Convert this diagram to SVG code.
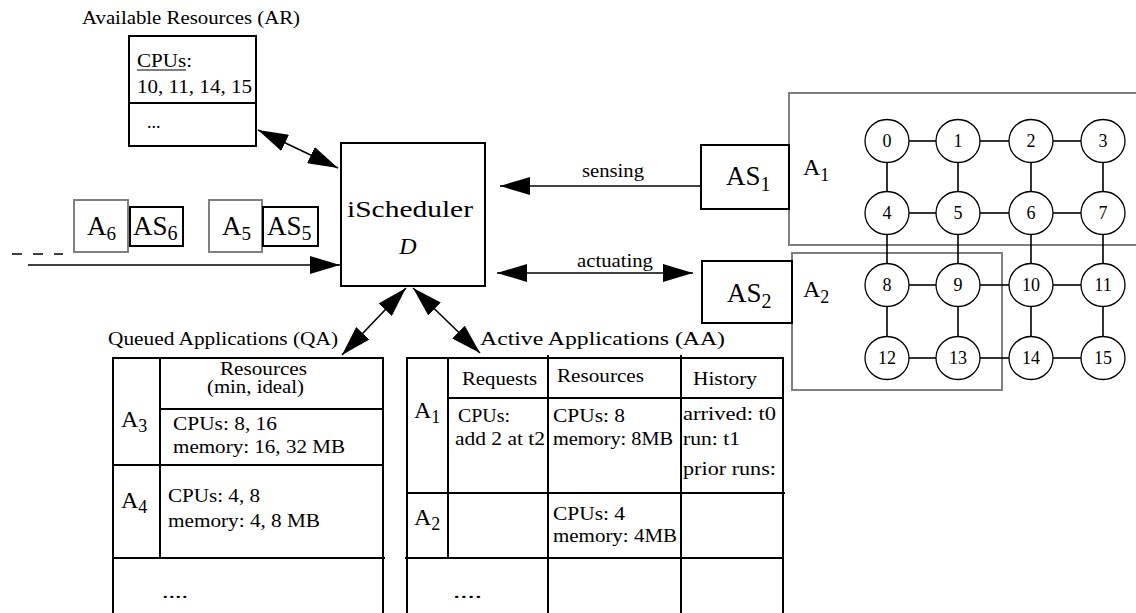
<svg xmlns="http://www.w3.org/2000/svg" width="1136" height="613" viewBox="0 0 1136 613">
  <defs>
    <marker id="head" viewBox="0 0 30 18" refX="30" refY="9" markerWidth="30" markerHeight="18" markerUnits="userSpaceOnUse" orient="auto-start-reverse">
      <path d="M0,0 L30,9 L0,18 z" fill="#000"/>
    </marker>
    <style>
      text { font-family: "Liberation Serif", "Times New Roman", serif; fill: #000; }
      .lbl { font-size: 18px; }
      .big { font-size: 24px; }
      .as { font-size: 27px; }
      .num { font-size: 18px; text-anchor: middle; }
      .box { fill: #fff; stroke: #000; stroke-width: 2; }
      .gbox { fill: none; stroke: #808080; stroke-width: 2; }
      .tl { stroke: #000; stroke-width: 2; fill: none; }
      .arr { stroke: #000; stroke-width: 1.6; fill: none; }
      .node { fill: #fff; stroke: #000; stroke-width: 1.3; }
      .edge { stroke: #000; stroke-width: 1.6; }
    </style>
  </defs>
  <rect width="1136" height="613" fill="#fff"/>

  <!-- region outlines for the two allocated partitions -->
  <rect class="gbox" x="789" y="93" width="360" height="152"/>
  <rect class="gbox" x="792" y="253" width="210" height="137"/>

  <!-- connectors -->
  <g id="connectors">
    <line class="arr" x1="258" y1="130" x2="338" y2="168" marker-start="url(#head)" marker-end="url(#head)"/>
    <line class="arr" x1="28" y1="265" x2="340" y2="265" marker-end="url(#head)"/>
    <line class="arr" x1="12" y1="254" x2="63" y2="254" stroke-dasharray="10 11"/>
    <line class="arr" x1="701" y1="186" x2="500" y2="186" marker-end="url(#head)"/>
    <line class="arr" x1="497" y1="273" x2="693" y2="273" marker-start="url(#head)" marker-end="url(#head)"/>
    <line class="arr" x1="406" y1="288" x2="342" y2="355" marker-start="url(#head)" marker-end="url(#head)"/>
    <line class="arr" x1="413" y1="288" x2="480" y2="353" marker-start="url(#head)" marker-end="url(#head)"/>
    <text class="lbl" x="582" y="177" textLength="62" lengthAdjust="spacingAndGlyphs">sensing</text>
    <text class="lbl" x="577" y="267" textLength="76" lengthAdjust="spacingAndGlyphs">actuating</text>
  </g>

  <!-- available resources -->
  <g id="ar">
    <text class="lbl" x="82" y="24" textLength="218" lengthAdjust="spacingAndGlyphs">Available Resources (AR)</text>
    <rect class="box" x="129" y="36" width="127" height="110"/>
    <line class="tl" x1="129" y1="103" x2="256" y2="103"/>
    <text class="lbl" x="137" y="67" textLength="55" lengthAdjust="spacingAndGlyphs">CPUs:</text>
    <line x1="137" y1="70" x2="186" y2="70" stroke="#000" stroke-width="1.2"/>
    <text class="lbl" x="137" y="93" textLength="115" lengthAdjust="spacingAndGlyphs">10, 11, 14, 15</text>
    <text class="lbl" x="147" y="128">...</text>
  </g>

  <!-- scheduler -->
  <g id="scheduler">
    <rect class="box" x="341" y="143" width="144" height="143"/>
    <text class="big" x="347" y="217" textLength="126" lengthAdjust="spacingAndGlyphs">iScheduler</text>
    <text class="big" x="408" y="254" text-anchor="middle" font-style="italic">D</text>
  </g>

  <!-- incoming applications -->
  <g id="a6">
    <rect class="gbox" x="74" y="200" width="54" height="52"/>
    <text class="as" x="87" y="235" font-size="26">A<tspan dy="5" font-size="19">6</tspan></text>
  </g>
  <g id="as6">
    <rect class="box" x="130" y="207" width="53" height="39"/>
    <text class="as" x="133" y="235">AS<tspan dy="5" font-size="20">6</tspan></text>
  </g>
  <g id="a5">
    <rect class="gbox" x="209" y="200" width="53" height="52"/>
    <text class="as" x="222" y="235" font-size="26">A<tspan dy="5" font-size="19">5</tspan></text>
  </g>
  <g id="as5">
    <rect class="box" x="263" y="207" width="55" height="39"/>
    <text class="as" x="267" y="235">AS<tspan dy="5" font-size="20">5</tspan></text>
  </g>

  <!-- application schedulers -->
  <g id="as1">
    <rect class="box" x="701" y="145" width="88" height="64"/>
    <text class="as" x="726" y="185">AS<tspan dy="6" font-size="20">1</tspan></text>
  </g>
  <g id="as2">
    <rect class="box" x="702" y="261" width="90" height="62"/>
    <text class="as" x="727" y="302">AS<tspan dy="6" font-size="20">2</tspan></text>
  </g>
  <text class="big" x="803" y="175">A<tspan dy="6" font-size="18">1</tspan></text>
  <text class="big" x="803" y="297">A<tspan dy="6" font-size="18">2</tspan></text>

  <!-- processor mesh -->
  <g id="mesh-edges">
    <line class="edge" x1="909" y1="141" x2="936" y2="141"/>
    <line class="edge" x1="980" y1="141" x2="1009" y2="141"/>
    <line class="edge" x1="1053" y1="141" x2="1081" y2="141"/>
    <line class="edge" x1="909" y1="213" x2="936" y2="213"/>
    <line class="edge" x1="980" y1="213" x2="1009" y2="213"/>
    <line class="edge" x1="1053" y1="213" x2="1081" y2="213"/>
    <line class="edge" x1="909" y1="285" x2="936" y2="285"/>
    <line class="edge" x1="980" y1="285" x2="1009" y2="285"/>
    <line class="edge" x1="1053" y1="285" x2="1081" y2="285"/>
    <line class="edge" x1="909" y1="358" x2="936" y2="358"/>
    <line class="edge" x1="980" y1="358" x2="1009" y2="358"/>
    <line class="edge" x1="1053" y1="358" x2="1081" y2="358"/>
    <line class="edge" x1="887" y1="162" x2="887" y2="192"/>
    <line class="edge" x1="958" y1="162" x2="958" y2="192"/>
    <line class="edge" x1="1031" y1="162" x2="1031" y2="192"/>
    <line class="edge" x1="1103" y1="162" x2="1103" y2="192"/>
    <line class="edge" x1="887" y1="234" x2="887" y2="264"/>
    <line class="edge" x1="958" y1="234" x2="958" y2="264"/>
    <line class="edge" x1="1031" y1="234" x2="1031" y2="264"/>
    <line class="edge" x1="1103" y1="234" x2="1103" y2="264"/>
    <line class="edge" x1="887" y1="306" x2="887" y2="337"/>
    <line class="edge" x1="958" y1="306" x2="958" y2="337"/>
    <line class="edge" x1="1031" y1="306" x2="1031" y2="337"/>
    <line class="edge" x1="1103" y1="306" x2="1103" y2="337"/>
  </g>
  <g id="n0"><ellipse class="node" cx="887" cy="141" rx="22" ry="21.5"/><text class="num" x="887" y="147">0</text></g>
  <g id="n1"><ellipse class="node" cx="958" cy="141" rx="22" ry="21.5"/><text class="num" x="958" y="147">1</text></g>
  <g id="n2"><ellipse class="node" cx="1031" cy="141" rx="22" ry="21.5"/><text class="num" x="1031" y="147">2</text></g>
  <g id="n3"><ellipse class="node" cx="1103" cy="141" rx="22" ry="21.5"/><text class="num" x="1103" y="147">3</text></g>
  <g id="n4"><ellipse class="node" cx="887" cy="213" rx="22" ry="21.5"/><text class="num" x="887" y="219">4</text></g>
  <g id="n5"><ellipse class="node" cx="958" cy="213" rx="22" ry="21.5"/><text class="num" x="958" y="219">5</text></g>
  <g id="n6"><ellipse class="node" cx="1031" cy="213" rx="22" ry="21.5"/><text class="num" x="1031" y="219">6</text></g>
  <g id="n7"><ellipse class="node" cx="1103" cy="213" rx="22" ry="21.5"/><text class="num" x="1103" y="219">7</text></g>
  <g id="n8"><ellipse class="node" cx="887" cy="285" rx="22" ry="21.5"/><text class="num" x="887" y="291">8</text></g>
  <g id="n9"><ellipse class="node" cx="958" cy="285" rx="22" ry="21.5"/><text class="num" x="958" y="291">9</text></g>
  <g id="n10"><ellipse class="node" cx="1031" cy="285" rx="22" ry="21.5"/><text class="num" x="1031" y="291">10</text></g>
  <g id="n11"><ellipse class="node" cx="1103" cy="285" rx="22" ry="21.5"/><text class="num" x="1103" y="291">11</text></g>
  <g id="n12"><ellipse class="node" cx="887" cy="358" rx="22" ry="21.5"/><text class="num" x="887" y="364">12</text></g>
  <g id="n13"><ellipse class="node" cx="958" cy="358" rx="22" ry="21.5"/><text class="num" x="958" y="364">13</text></g>
  <g id="n14"><ellipse class="node" cx="1031" cy="358" rx="22" ry="21.5"/><text class="num" x="1031" y="364">14</text></g>
  <g id="n15"><ellipse class="node" cx="1103" cy="358" rx="22" ry="21.5"/><text class="num" x="1103" y="364">15</text></g>

  <!-- queued applications table -->
  <g id="qa">
    <text class="lbl" x="108" y="345" textLength="230" lengthAdjust="spacingAndGlyphs">Queued Applications (QA)</text>
    <path class="tl" d="M113,613 V358 H383 V613"/>
    <line class="tl" x1="160" y1="358" x2="160" y2="559"/>
    <line class="tl" x1="160" y1="409" x2="383" y2="409"/>
    <line class="tl" x1="113" y1="465" x2="383" y2="465"/>
    <line class="tl" x1="113" y1="558" x2="385" y2="558"/>
    <text class="lbl" x="220" y="375" textLength="87" lengthAdjust="spacingAndGlyphs">Resources</text>
    <text class="lbl" x="207" y="393" textLength="97" lengthAdjust="spacingAndGlyphs">(min, ideal)</text>
    <text class="big" x="121" y="427">A<tspan dy="5" font-size="18">3</tspan></text>
    <text class="lbl" x="173" y="430" textLength="104" lengthAdjust="spacingAndGlyphs">CPUs: 8, 16</text>
    <text class="lbl" x="173" y="453" textLength="172" lengthAdjust="spacingAndGlyphs">memory: 16, 32 MB</text>
    <text class="big" x="121" y="508">A<tspan dy="5" font-size="18">4</tspan></text>
    <text class="lbl" x="168" y="502" textLength="92" lengthAdjust="spacingAndGlyphs">CPUs: 4, 8</text>
    <text class="lbl" x="168" y="527" textLength="152" lengthAdjust="spacingAndGlyphs">memory: 4, 8 MB</text>
    <text class="lbl" x="162" y="598" textLength="26" lengthAdjust="spacingAndGlyphs">....</text>
  </g>

  <!-- active applications table -->
  <g id="aa">
    <text class="lbl" x="480" y="345" textLength="245" lengthAdjust="spacingAndGlyphs">Active Applications (AA)</text>
    <path class="tl" d="M407,613 V358 H783 V613"/>
    <line class="tl" x1="448" y1="358" x2="448" y2="558"/>
    <line class="tl" x1="548" y1="355" x2="548" y2="613"/>
    <line class="tl" x1="681" y1="355" x2="681" y2="613"/>
    <line class="tl" x1="448" y1="398" x2="783" y2="398"/>
    <line class="tl" x1="407" y1="493" x2="785" y2="493"/>
    <line class="tl" x1="405" y1="558" x2="783" y2="558"/>
    <text class="lbl" x="462" y="385" textLength="75" lengthAdjust="spacingAndGlyphs">Requests</text>
    <text class="lbl" x="557" y="382" textLength="87" lengthAdjust="spacingAndGlyphs">Resources</text>
    <text class="lbl" x="693" y="385" textLength="64" lengthAdjust="spacingAndGlyphs">History</text>
    <text class="big" x="414" y="418">A<tspan dy="5" font-size="18">1</tspan></text>
    <text class="lbl" x="458" y="422" textLength="52" lengthAdjust="spacingAndGlyphs">CPUs:</text>
    <text class="lbl" x="455" y="445" textLength="90" lengthAdjust="spacingAndGlyphs">add 2 at t2</text>
    <text class="lbl" x="553" y="422" textLength="72" lengthAdjust="spacingAndGlyphs">CPUs: 8</text>
    <text class="lbl" x="553" y="445" textLength="120" lengthAdjust="spacingAndGlyphs">memory: 8MB</text>
    <text class="lbl" x="683" y="420" textLength="93" lengthAdjust="spacingAndGlyphs">arrived: t0</text>
    <text class="lbl" x="683" y="445" textLength="57" lengthAdjust="spacingAndGlyphs">run: t1</text>
    <text class="lbl" x="683" y="475" textLength="93" lengthAdjust="spacingAndGlyphs">prior runs:</text>
    <text class="big" x="414" y="525">A<tspan dy="5" font-size="18">2</tspan></text>
    <text class="lbl" x="553" y="520" textLength="72" lengthAdjust="spacingAndGlyphs">CPUs: 4</text>
    <text class="lbl" x="553" y="542" textLength="124" lengthAdjust="spacingAndGlyphs">memory: 4MB</text>
    <text class="lbl" x="453" y="598" textLength="29" lengthAdjust="spacingAndGlyphs">....</text>
  </g>
</svg>
